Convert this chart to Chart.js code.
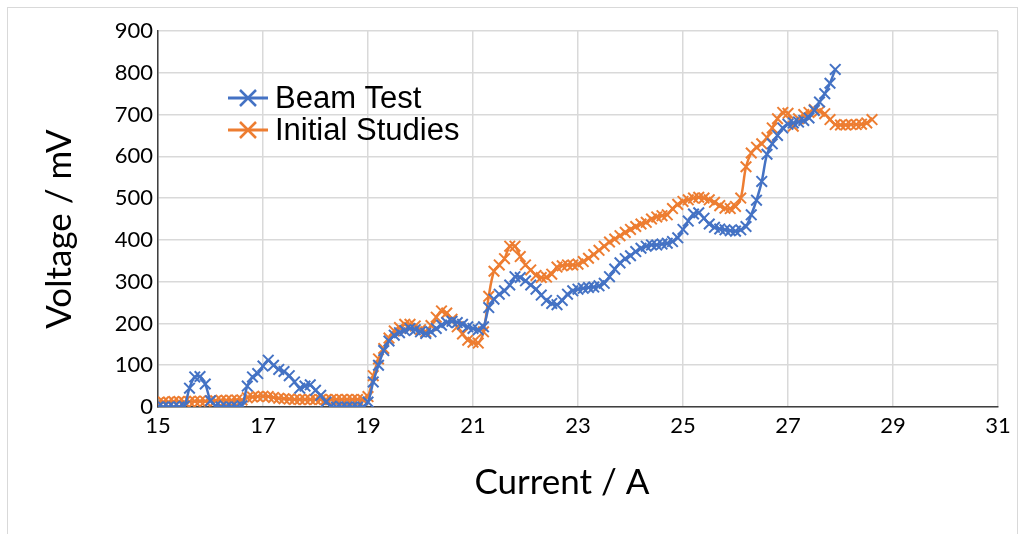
<!DOCTYPE html>
<html>
<head>
<meta charset="utf-8">
<script src="https://cdn.jsdelivr.net/npm/chart.js@4/dist/chart.umd.min.js"></script>
<style>
  html, body { margin: 0; padding: 0; background: #fff; }
  #wrap { position: relative; width: 1024px; height: 534px; overflow: hidden; }
  #frame { position: absolute; left: 7px; top: 7px; width: 1011px; height: 560px; border: 1px solid #d9d9d9; box-sizing: border-box; }
  #chart { position: absolute; left: 0; top: 0; }
</style>
</head>
<body>
<div id="wrap">
  <div id="frame"></div>
  <canvas id="chart" width="1024" height="534"></canvas>
</div>
<script>
// current in A (shared x values, beam test stops at 27.9)
const current = [
  15.0, 15.1, 15.2, 15.3, 15.4, 15.5, 15.6, 15.7, 15.8, 15.9,
  16.0, 16.1, 16.2, 16.3, 16.4, 16.5, 16.6, 16.7, 16.8, 16.9,
  17.0, 17.1, 17.2, 17.3, 17.4, 17.5, 17.6, 17.7, 17.8, 17.9,
  18.0, 18.1, 18.2, 18.3, 18.4, 18.5, 18.6, 18.7, 18.8, 18.9,
  19.0, 19.1, 19.2, 19.3, 19.4, 19.5, 19.6, 19.7, 19.8, 19.9,
  20.0, 20.1, 20.2, 20.3, 20.4, 20.5, 20.6, 20.7, 20.8, 20.9,
  21.0, 21.1, 21.2, 21.3, 21.4, 21.5, 21.6, 21.7, 21.8, 21.9,
  22.0, 22.1, 22.2, 22.3, 22.4, 22.5, 22.6, 22.7, 22.8, 22.9,
  23.0, 23.1, 23.2, 23.3, 23.4, 23.5, 23.6, 23.7, 23.8, 23.9,
  24.0, 24.1, 24.2, 24.3, 24.4, 24.5, 24.6, 24.7, 24.8, 24.9,
  25.0, 25.1, 25.2, 25.3, 25.4, 25.5, 25.6, 25.7, 25.8, 25.9,
  26.0, 26.1, 26.2, 26.3, 26.4, 26.5, 26.6, 26.7, 26.8, 26.9,
  27.0, 27.1, 27.2, 27.3, 27.4, 27.5, 27.6, 27.7, 27.8, 27.9,
  28.0, 28.1, 28.2, 28.3, 28.4, 28.5, 28.6
];

// voltage in mV
const beamTest = [
  0, 0, 0, 0, 0, 2, 45, 72, 73, 55,
  15, 3, 0, 0, 0, 0, 3, 50, 72, 80,
  98, 112, 100, 90, 85, 75, 60, 45, 50, 53,
  40, 28, 12, 2, 0, 0, 0, 0, 0, 0,
  12, 60, 100, 135, 158, 172, 178, 183, 188, 185,
  180, 176, 180, 188, 196, 202, 205, 202, 198, 192,
  188, 185, 192, 238, 258, 270, 278, 292, 312, 310,
  302, 292, 282, 268, 255, 248, 245, 255, 270, 278,
  282, 284, 286, 287, 290, 296, 312, 330, 345, 355,
  362, 372, 380, 385, 388, 388, 390, 392, 396, 405,
  425, 445, 462, 465, 452, 438, 430, 426, 424, 422,
  421, 424, 432, 460, 495, 540, 605, 630, 650, 668,
  677, 680, 682, 686, 692, 710, 730, 750, 775, 808
];

const initialStudies = [
  10, 12, 12, 13, 13, 12, 13, 14, 14, 14,
  15, 15, 16, 16, 16, 17, 17, 22, 24, 25,
  26, 25, 23, 21, 20, 19, 18, 18, 18, 18,
  18, 18, 18, 18, 18, 18, 18, 18, 18, 18,
  25, 75, 115, 140, 165, 182, 190, 198, 198, 194,
  185, 180, 195, 215, 230, 225, 210, 192, 175, 160,
  155, 153, 180, 265, 325, 340, 355, 385, 385, 360,
  340, 328, 315, 310, 311, 318, 335, 338, 340, 340,
  342, 348, 356, 365, 375, 385, 395, 402, 410, 418,
  425, 432, 438, 442, 450, 455, 458, 460, 475, 485,
  492, 496, 500, 502, 500, 496, 490, 482, 476, 475,
  480, 500, 575, 608, 622, 630, 645, 668, 690, 705,
  703, 672, 690, 700, 705, 712, 708, 702, 688, 676,
  675, 675, 676, 676, 677, 680, 688
];

const seriesNames = ["Beam Test", "Initial Studies"];
const seriesColors = ["#4472C4", "#ED7D31"];

const xTitle = "Current / A";
const yTitle = "Voltage / mV";

function punten(valores) {
  return valores.map((v, i) => ({ x: current[i], y: v }));
}

function dibujarCruz(ctx, x, y, r) {
  ctx.beginPath();
  ctx.moveTo(x - r, y - r); ctx.lineTo(x + r, y + r);
  ctx.moveTo(x - r, y + r); ctx.lineTo(x + r, y - r);
  ctx.stroke();
}

// legend drawn inside the plot, top left
const leyendaInterna = {
  id: "leyendaInterna",
  afterDraw(chart) {
    const ctx = chart.ctx;
    ctx.save();
    chart.data.datasets.forEach((ds, i) => {
      const y = 98 + i * 32;
      ctx.strokeStyle = ds.borderColor;
      ctx.lineWidth = 3;
      ctx.beginPath();
      ctx.moveTo(228, y); ctx.lineTo(268, y);
      ctx.stroke();
      ctx.lineWidth = 2.5;
      dibujarCruz(ctx, 248, y, 8);
      ctx.fillStyle = "#000";
      ctx.font = "31px 'Liberation Sans', Arial, sans-serif";
      ctx.textBaseline = "middle";
      ctx.fillText(ds.label, 275, y + 1);
    });
    ctx.restore();
  }
};

// axis titles, placed like the original (x title sits a bit left of centre)
const titulosEjes = {
  id: "titulosEjes",
  afterDraw(chart) {
    const ctx = chart.ctx;
    ctx.save();
    ctx.fillStyle = "#000";
    ctx.font = "35px Lato, sans-serif";
    ctx.textAlign = "center";
    ctx.textBaseline = "middle";
    ctx.fillText(xTitle, 562, 483);
    ctx.translate(60, 229);
    ctx.rotate(-Math.PI / 2);
    ctx.fillText(yTitle, 0, 0);
    ctx.restore();
  }
};

const datasets = [beamTest, initialStudies].map((valores, i) => ({
  label: seriesNames[i],
  data: punten(valores),
  borderColor: seriesColors[i],
  backgroundColor: seriesColors[i],
  borderWidth: 2.5,
  tension: 0.35,
  pointStyle: "crossRot",
  pointRadius: 7.5,
  pointBorderWidth: 2,
  pointHoverRadius: 7.5,
}));

new Chart(document.getElementById("chart"), {
  type: "line",
  data: { datasets },
  plugins: [leyendaInterna, titulosEjes],
  options: {
    responsive: false,
    animation: false,
    layout: { padding: { left: 0, right: 26, top: 31, bottom: 0 } },
    plugins: { legend: { display: false }, tooltip: { enabled: false } },
    scales: {
      x: {
        type: "linear",
        min: 15,
        max: 31,
        ticks: { stepSize: 2, color: "#000", padding: 6, font: { family: "Lato", size: 22 } },
        grid: { color: "#d9d9d9", lineWidth: 1.5, drawTicks: false },
        border: { color: "#404040", width: 1.5 },
        afterFit(scale) { scale.height = 127; },
      },
      y: {
        min: 0,
        max: 900,
        ticks: { stepSize: 100, color: "#000", padding: 5, font: { family: "Lato", size: 22 } },
        grid: { color: "#d9d9d9", lineWidth: 1.5, drawTicks: false },
        border: { color: "#404040", width: 1.5 },
        afterFit(scale) { scale.width = 158; },
      },
    },
  },
});
</script>
</body>
</html>
